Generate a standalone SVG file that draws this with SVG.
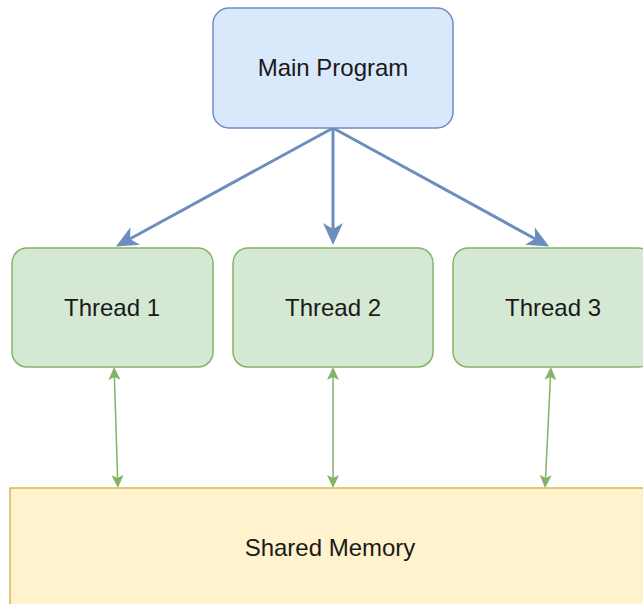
<svg xmlns="http://www.w3.org/2000/svg" width="643" height="604" viewBox="0 0 643 604">
<style>
.blue{fill:#dae8fc;stroke:#6c8ebf;stroke-width:1.5}
.green{fill:#d5e8d4;stroke:#82b366;stroke-width:1.5}
.yellow{fill:#fff2cc;stroke:#d6b656;stroke-width:1.5}
.lbl{font-family:"Liberation Sans",Arial,sans-serif;font-size:24px;fill:#1a1a1a;text-anchor:middle}
.ab{stroke:#6c8ebf;stroke-width:3;fill:none;marker-end:url(#hb)}
.ag{stroke:#82b366;stroke-width:1.5;fill:none;marker-start:url(#hg);marker-end:url(#hg)}
</style>
<defs>
<marker id="hb" markerUnits="userSpaceOnUse" markerWidth="24" markerHeight="22" refX="12" refY="10" orient="auto">
<path d="M0,0 L22,10 L0,20 L6,10 z" fill="#6c8ebf"/>
</marker>
<marker id="hg" markerUnits="userSpaceOnUse" markerWidth="15" markerHeight="14" refX="6" refY="6" orient="auto-start-reverse">
<path d="M0,0 L13,6 L0,12 L3,6 z" fill="#82b366"/>
</marker>
</defs>
<rect width="643" height="604" fill="#ffffff"/>
<g id="connectors">
<line class="ab" x1="333" y1="128" x2="124.7" y2="241.8"/>
<line class="ab" x1="333" y1="128" x2="333" y2="235"/>
<line class="ab" x1="333" y1="128" x2="540.4" y2="241.7"/>
<line class="ag" x1="114.3" y1="374" x2="117.7" y2="481"/>
<line class="ag" x1="333" y1="374" x2="333" y2="481"/>
<line class="ag" x1="550.6" y1="374" x2="545.4" y2="481"/>
</g>
<g id="main">
<rect class="blue" x="213" y="8" width="240" height="120" rx="16"/>
<text class="lbl" x="333" y="76">Main Program</text>
</g>
<g id="thread1">
<rect class="green" x="12" y="248" width="201" height="119" rx="15"/>
<text class="lbl" x="112" y="316">Thread 1</text>
</g>
<g id="thread2">
<rect class="green" x="233" y="248" width="200" height="119" rx="15"/>
<text class="lbl" x="333" y="316">Thread 2</text>
</g>
<g id="thread3">
<rect class="green" x="453" y="248" width="200" height="119" rx="15"/>
<text class="lbl" x="553" y="316">Thread 3</text>
</g>
<g id="shared">
<rect class="yellow" x="10" y="488" width="650" height="130"/>
<text class="lbl" x="330" y="556">Shared Memory</text>
</g>
</svg>
